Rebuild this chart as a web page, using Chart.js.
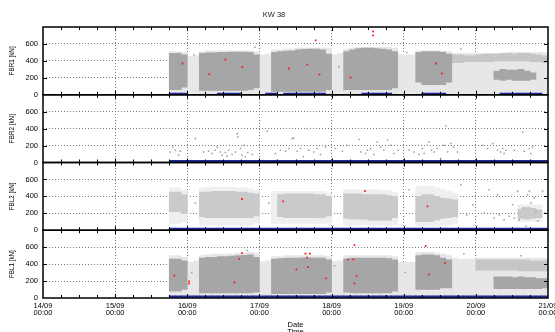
<!DOCTYPE html>
<html>
<head>
<meta charset="utf-8">
<title>KW 38</title>
<script src="https://cdn.jsdelivr.net/npm/chart.js@4.4.0/dist/chart.umd.min.js"></script>
<style>
  html, body { margin: 0; padding: 0; background: #fff; }
  #wrap { width: 555px; height: 332px; }
</style>
</head>
<body>
<div id="wrap"><canvas id="myChart" width="555" height="332"></canvas></div>
<script>
// x = hours since 14/09 00:00, values in kN
const dayLabels = ["14/09", "15/09", "16/09", "17/09", "18/09", "19/09", "20/09", "21/09"];
const timeLabel = "00:00";

// 2 hour bins from 42 h to 168 h (bin centre)
const binHours = Array.from({ length: 63 }, (_, i) => 43 + 2 * i);

// dense part of the cloud [low, high] per bin
const fbr1Core = [
  [60,490],[60,490],[90,470],null,null,[50,490],[50,495],
  [50,495],[50,500],[50,500],[50,505],[50,505],[50,505],[60,500],
  [80,470],null,null,[40,500],[40,510],[40,515],[40,520],
  [40,530],[40,535],[40,540],[40,540],[40,530],[60,480],null,
  null,[60,510],[60,530],[60,545],[60,550],[60,550],[60,545],
  [60,540],[60,530],[80,510],null,null,null,[150,500],
  [120,510],[120,510],[120,510],[120,500],[150,480],null,null,
  null,null,null,null,null,[180,280],[170,300],
  [180,290],[170,290],[170,300],[170,280],[180,260],null,null
];
const fbr1Mid = [
  null,null,null,null,null,null,null,
  null,null,null,null,null,null,null,
  null,null,null,null,null,null,null,
  null,null,null,null,null,null,null,
  null,null,null,null,null,null,null,
  null,null,null,null,null,null,null,
  null,null,null,null,null,[380,470],[380,470],
  [390,460],[390,460],[390,470],[390,480],[390,480],[400,480],[400,490],
  [400,490],[400,480],[400,490],[400,490],[390,480],[390,470],[380,460]
];
const fbr1Halo = [
  [0,510],[0,510],[0,500],[20,450],[20,460],[0,510],[0,520],
  [0,520],[0,520],[0,520],[0,520],[0,520],[0,520],[0,520],
  [0,510],[20,470],[20,480],[0,530],[0,530],[0,540],[0,540],
  [0,550],[0,550],[0,550],[0,550],[0,550],[0,550],[20,470],
  [20,490],[0,540],[0,550],[0,560],[0,560],[0,560],[0,560],
  [0,560],[0,560],[0,550],[20,480],[20,470],[20,470],[0,520],
  [0,520],[0,520],[0,520],[0,520],[0,510],[0,490],[0,490],
  [0,490],[0,490],[0,490],[0,490],[0,490],[0,490],[0,490],
  [0,500],[0,500],[0,500],[0,500],[0,500],[0,500],[0,500]
];
const fbr1Blue = [
  20,20,20,null,null,null,null,
  null,20,20,20,20,null,null,
  null,null,20,20,null,20,20,
  20,20,20,20,20,null,null,
  null,null,null,null,20,20,20,
  20,20,null,null,null,null,null,
  20,20,20,20,null,null,null,
  null,null,null,null,null,null,20,
  20,20,20,20,20,20,null
];

const fbr2Blue = [
  25,25,25,25,25,25,25, 25,25,25,25,25,25,25, 25,25,25,25,25,25,25,
  25,25,25,25,25,25,25, 25,25,25,25,25,25,25, 25,25,25,25,25,25,25,
  25,25,25,25,25,25,25, 25,25,25,25,25,25,25, 25,25,25,25,25,25,25
];

const fbl2Core = [
  [220,450],[220,450],[200,420],null,null,[160,450],[150,450],
  [150,460],[150,460],[150,460],[150,460],[150,450],[150,450],[150,440],
  [170,430],null,null,null,[160,420],[150,430],[150,430],
  [150,430],[150,430],[150,430],[150,420],[150,420],[170,400],null,
  null,[140,430],[130,430],[130,430],[130,420],[120,420],[120,420],
  [120,420],[120,410],[150,400],null,null,null,[100,400],
  [100,420],[100,420],[120,400],[140,380],[150,370],[160,360],null,
  null,null,null,null,null,null,null,
  null,null,[140,250],[130,270],[140,260],[150,240],null
];
const fbl2Halo = [
  [80,500],[80,500],[100,470],null,null,[60,500],[60,510],
  [60,510],[60,510],[60,510],[60,510],[60,500],[60,500],[60,490],
  [80,470],null,null,[80,460],[80,460],[80,460],[80,460],
  [80,460],[80,460],[80,460],[80,460],[80,460],[80,440],null,
  null,[60,480],[60,480],[60,480],[60,480],[60,480],[60,480],
  [60,470],[60,470],[70,450],null,null,null,[50,520],
  [50,520],[50,520],[50,500],[60,480],[60,460],[80,440],null,
  null,null,null,null,null,null,null,
  null,null,[100,300],[100,300],[100,300],[100,300],null
];
const fbl2Blue = [
  25,25,25,25,25,25,25, 25,25,25,25,25,25,25, 25,25,25,25,25,25,25,
  25,25,25,25,25,25,25, 25,25,25,25,25,25,25, 25,25,25,25,25,25,25,
  25,25,25,25,25,25,25, 25,25,25,25,25,25,25, 25,25,25,25,25,25,25
];

const fbl1Core = [
  [80,460],[80,460],[100,440],null,null,[60,470],[60,480],
  [60,480],[60,490],[60,490],[60,495],[60,500],[60,505],[60,510],
  [70,480],null,null,[50,460],[50,465],[50,470],[50,470],
  [50,470],[50,475],[50,475],[50,470],[50,470],[70,450],null,
  null,[70,460],[60,470],[60,470],[60,470],[60,470],[60,470],
  [60,470],[60,465],[80,450],null,null,null,[100,500],
  [100,510],[100,510],[100,500],[120,470],[120,450],null,null,
  null,null,null,null,null,[110,250],[110,250],
  [110,250],[110,240],[110,250],[110,240],[110,240],[110,230],[120,230]
];
const fbl1Mid = [
  null,null,null,null,null,null,null,
  null,null,null,null,null,null,null,
  null,null,null,null,null,null,null,
  null,null,null,null,null,null,null,
  null,null,null,null,null,null,null,
  null,null,null,null,null,null,null,
  null,null,null,null,null,null,null,
  null,null,[330,450],[330,450],[330,450],[330,450],[330,450],
  [330,450],[330,450],[320,450],[320,450],[320,440],[320,440],[320,440]
];
const fbl1Halo = [
  [0,500],[0,500],[0,480],[20,420],[20,440],[0,500],[0,510],
  [0,520],[0,520],[0,520],[0,520],[0,530],[0,530],[0,540],
  [0,530],[20,430],[20,440],[0,490],[0,490],[0,500],[0,500],
  [0,500],[0,500],[0,500],[0,500],[0,500],[0,490],[20,430],
  [20,440],[0,500],[0,500],[0,500],[0,500],[0,500],[0,500],
  [0,500],[0,500],[0,490],[20,420],[20,420],[20,420],[0,540],
  [0,540],[0,540],[0,530],[0,520],[0,500],[20,470],[20,460],
  [20,460],[20,460],[0,470],[0,470],[0,470],[0,470],[0,470],
  [0,470],[0,470],[0,470],[0,470],[0,470],[0,470],[0,470]
];
const fbl1Blue = [
  25,25,25,25,25,25,25, 25,25,25,25,25,25,25, 25,25,25,25,25,25,25,
  25,25,25,25,25,25,25, 25,25,25,25,25,25,25, 25,25,25,25,25,25,25,
  25,25,25,25,25,25,25, 25,25,25,25,25,25,25, 25,25,25,25,25,25,25
];

// single readings [hour, kN]
const fbr1Gray = [[113.1,612],[70.5,560],[98.5,330],[50.2,470],[121,500],[139,540]];
const fbr2Gray = [
  [42.3,125],[44,145],[45.7,133],[43.2,184],[45.1,86],[50.7,282],
  [53.4,125],[55.1,133],[56.2,106],[57.3,145],[59,125],[60.7,118],[61.8,145],[62.9,94],
  [64,125],[64.6,341],[64.8,302],[65.7,165],[66.2,86],[66.8,204],[67.3,67],[68.1,118],
  [69.6,94],[61.2,75],[59.6,86],[57.9,184],
  [74.6,369],[77.3,106],[79,145],[80.7,133],[81.8,165],[82.9,282],[83.4,290],[84.6,133],
  [85.7,165],[86.6,67],[87.9,400],[88.4,145],[90.1,125],[91.2,165],[92.3,94],[94,184],
  [97.3,165],[99.6,133],[101.2,204],[105.1,271],[105.7,125],[107.3,106],[109,165],[110.1,94],
  [111.2,243],[112.3,184],[113.4,145],[114.6,263],[115.7,204],[116.8,106],[118.1,145],[107.9,145],
  [121.8,145],[123.4,125],[125.1,94],[126.2,165],[126.8,106],[127.9,204],[128.4,243],[129.2,145],
  [130.1,125],[131.2,165],[132.3,47],[133.4,204],[134.6,125],[135.7,224],[136.6,184],[134,431],
  [137.9,125],
  [146.2,204],[147.9,165],[149.6,224],[151.2,145],[152.3,125],[152.9,165],[153.4,106],[154,145],
  [156.8,145],[159.6,361],[160.1,133],[161.8,165],[162.9,184],[162.3,106]
];
const fbl2Gray = [
  [146.8,204],[148.4,478],[150.1,145],[151.8,184],[153.4,125],[155.1,165],[156.2,302],
  [156.8,145],[157.9,459],[158.4,125],[159.6,263],[160.7,47],[161.2,420],[161.8,459],
  [162.3,322],[163.4,380],[164.6,106],[166.2,459],[166.8,204],[164,224],[151.2,420],
  [50.7,322],[75.1,322],[121.8,478],[139,537],[143,300],[141,180]
];
const fbl1Gray = [[68,560],[120.5,300],[97,380],[49.5,300],[140,520],[159,500]];

const fbr1Red = [
  [46.4,369],[55.3,243],[60.7,416],[66.3,329],[81.8,310],[87.9,357],[90.7,643],
  [92,239],[102.3,204],[109.8,749],[109.8,702],[130.7,369],[132.7,251]
];
const fbl2Red = [[66.2,369],[79.9,341],[107.1,463],[127.9,282]];
const fbl1Red = [
  [43.7,263],[48.6,196],[48.6,170],[63.7,184],[65.3,463],[66.2,529],[84.3,337],
  [87.3,525],[88.8,525],[87.8,478],[88.2,365],[94.1,231],[101.4,455],[103.2,455],
  [103.6,623],[104.3,259],[103.6,173],[127.3,616],[128.4,278],[133.7,416]
];

const FONT = "'Liberation Sans', Arial, Helvetica, sans-serif";
const GRID = "#7a7a7a";

// panels from bottom to top
const panels = [
  { id: "fbl1", title: "FBL1 [kN]", core: fbl1Core, mid: fbl1Mid, halo: fbl1Halo, blue: fbl1Blue, gray: fbl1Gray, red: fbl1Red,
    coreColor: "#a6a6a6", midColor: "#c6c6c6", haloColor: "#e7e7e7" },
  { id: "fbl2", title: "FBL2 [kN]", core: fbl2Core, mid: null, halo: fbl2Halo, blue: fbl2Blue, gray: fbl2Gray, red: fbl2Red,
    coreColor: "#cacaca", midColor: "#cacaca", haloColor: "#efefef" },
  { id: "fbr2", title: "FBR2 [kN]", core: null, mid: null, halo: null, blue: fbr2Blue, gray: fbr2Gray, red: [],
    coreColor: "#a6a6a6", midColor: "#c6c6c6", haloColor: "#e7e7e7" },
  { id: "fbr1", title: "FBR1 [kN]", core: fbr1Core, mid: fbr1Mid, halo: fbr1Halo, blue: fbr1Blue, gray: fbr1Gray, red: fbr1Red,
    coreColor: "#a6a6a6", midColor: "#c6c6c6", haloColor: "#e7e7e7" }
];

function rangeBars(values, axis, color, order) {
  let data = [];
  values.forEach((v, i) => {
    if (v !== null) data.push({ x: binHours[i], y: v });
  });
  return {
    type: "bar", data, yAxisID: axis, backgroundColor: color, order,
    grouped: false, barPercentage: 1, categoryPercentage: 1, borderWidth: 0
  };
}

function points(values, axis, color, radius, order) {
  return {
    type: "scatter",
    data: values.map(p => ({ x: p[0], y: p[1] })),
    yAxisID: axis, order,
    pointStyle: "rect", pointRadius: radius, pointBorderWidth: 0,
    backgroundColor: color, borderColor: color, showLine: false
  };
}

let datasets = [];
let scales = {
  x: {
    type: "linear", min: 0, max: 168, offset: false,
    ticks: {
      stepSize: 24, autoSkip: false, maxRotation: 0, padding: 4, color: "#000",
      font: { family: FONT, size: 7.5, lineHeight: 1 },
      callback: (v, i) => [dayLabels[i], timeLabel]
    },
    grid: {
      offset: false, drawTicks: false, lineWidth: 1,
      color: c => (c.tick && (c.tick.value === 0 || c.tick.value === 168)) ? "rgba(0,0,0,0)" : GRID
    },
    border: { display: false, dash: [1, 2] },
    title: {
      display: true, text: ["Date", "Time"], color: "#000",
      font: { family: FONT, size: 7.5, lineHeight: 1 },
      padding: { top: 0, bottom: -4 }
    },
    afterFit: s => { s.height = 34; s.paddingLeft = 0; s.paddingRight = 0; }
  }
};

panels.forEach(p => {
  if (p.halo) datasets.push(rangeBars(p.halo, p.id, p.haloColor, 6));
  if (p.mid) datasets.push(rangeBars(p.mid, p.id, p.midColor, 5));
  if (p.core) datasets.push(rangeBars(p.core, p.id, p.coreColor, 4));
  datasets.push(rangeBars(p.blue, p.id, "#1c2a9e", 3));
  datasets.push(points(p.gray, p.id, "#a0a0a0", 1.1, 2));
  datasets.push(points(p.red, p.id, "#ff1a1a", 1.25, 1));

  scales[p.id] = {
    type: "linear", position: "left", stack: "kw", stackWeight: 1,
    min: 0, max: 800,
    ticks: {
      stepSize: 200, includeBounds: false, autoSkip: false, padding: 5, color: "#000",
      font: { family: FONT, size: 7.5 },
      callback: v => (v === 800 ? "" : v)
    },
    grid: {
      drawTicks: false, lineWidth: 1,
      color: c => (c.tick && (c.tick.value === 0 || c.tick.value === 800)) ? "rgba(0,0,0,0)" : GRID
    },
    border: { display: false, dash: [1, 2] },
    title: {
      display: true, text: p.title, color: "#000",
      font: { family: FONT, size: 6.3 },
      padding: { top: 8, bottom: 0 }
    },
    afterFit: s => { s.width = 43; s.paddingTop = 0; s.paddingBottom = 0; }
  };
});

// black frame round each panel plus inner tick marks
const frames = {
  id: "frames",
  afterDatasetsDraw(chart) {
    let ctx = chart.ctx;
    let left = chart.chartArea.left, right = chart.chartArea.right;
    let xs = chart.scales.x;
    ctx.save();
    ctx.strokeStyle = "#000";
    panels.forEach(p => {
      let s = chart.scales[p.id];
      ctx.lineWidth = 1;
      ctx.beginPath();
      for (let h = 6; h < 168; h += 6) {
        let px = Math.round(xs.getPixelForValue(h)) + 0.5;
        let len = h % 24 === 0 ? 4 : 3;
        ctx.moveTo(px, s.top); ctx.lineTo(px, s.top + len);
        ctx.moveTo(px, s.bottom); ctx.lineTo(px, s.bottom - len);
      }
      [200, 400, 600].forEach(v => {
        let py = Math.round(s.getPixelForValue(v)) + 0.5;
        ctx.moveTo(left, py); ctx.lineTo(left + 4, py);
        ctx.moveTo(right, py); ctx.lineTo(right - 4, py);
      });
      ctx.stroke();
      ctx.lineWidth = 1.5;
      ctx.strokeRect(left, s.top, right - left, s.bottom - s.top);
    });
    ctx.restore();
  }
};

let ctx = document.getElementById("myChart").getContext("2d");
let myChart = new Chart(ctx, {
  type: "bar",
  data: { datasets },
  options: {
    responsive: false,
    animation: false,
    events: [],
    layout: { padding: { left: 0, right: 7, top: 0, bottom: 0 } },
    plugins: {
      legend: { display: false },
      tooltip: { enabled: false },
      title: {
        display: true, text: "KW 38", color: "#222",
        font: { family: FONT, size: 7.5, weight: "normal", lineHeight: 1.2 },
        padding: { top: 10, bottom: 8 }
      }
    },
    scales
  },
  plugins: [frames]
});
</script>
</body>
</html>
